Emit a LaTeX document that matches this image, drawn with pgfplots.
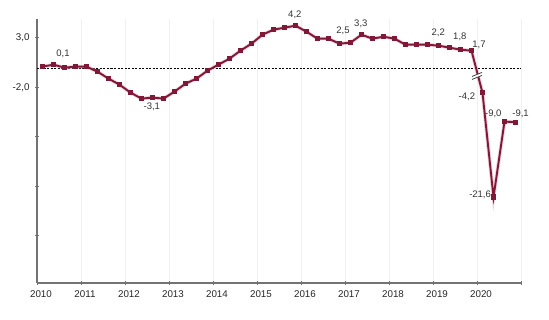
\documentclass[border=0pt]{standalone}
\usepackage{fontspec}
\setmainfont{Liberation Sans}
\usepackage{pgfplots}
\pgfplotsset{compat=1.18}
\usepackage{pgfplotstable}
\definecolor{wine}{RGB}{128,24,56}
\definecolor{winelight}{RGB}{225,160,180}
% v = value; s = scale of the broken axis part (after the break mark)
\pgfplotstableread{
x v s
2010.125 0.1 1
2010.375 0.3 1
2010.625 0.0 1
2010.875 0.1 1
2011.125 0.1 1
2011.375 -0.4 1
2011.625 -1.1 1
2011.875 -1.7 1
2012.125 -2.5 1
2012.375 -3.1 1
2012.625 -3.0 1
2012.875 -3.1 1
2013.125 -2.4 1
2013.375 -1.6 1
2013.625 -1.1 1
2013.875 -0.3 1
2014.125 0.3 1
2014.375 0.9 1
2014.625 1.7 1
2014.875 2.4 1
2015.125 3.3 1
2015.375 3.8 1
2015.625 4.0 1
2015.875 4.2 1
2016.125 3.6 1
2016.375 2.9 1
2016.625 2.9 1
2016.875 2.4 1
2017.125 2.5 1
2017.375 3.3 1
2017.625 2.9 1
2017.875 3.1 1
2018.125 2.9 1
2018.375 2.3 1
2018.625 2.3 1
2018.875 2.3 1
2019.125 2.2 1
2019.375 2.0 1
2019.625 1.8 1
2019.875 1.7 1
2020.125 -4.2 0.6
2020.375 -21.6 0.6
2020.625 -9.0 0.6
2020.875 -9.1 0.6
}\gdpdata
\begin{document}
\begin{tikzpicture}
\path[use as bounding box] (-37pt,-36pt) rectangle (512pt,283pt);
\begin{axis}[
  at={(0pt,0pt)}, anchor=south west,
  scale only axis, width=484pt, height=264pt,
  xmin=2010, xmax=2021, ymin=-21.56, ymax=4.87,
  clip=false,
  axis lines*=left,
  axis line style={draw=black!55, line width=1.2pt},
  tick style={draw=black!55, line width=0.8pt},
  major tick length=4pt, tick align=center,
  xtick={2010,2011,2012,2013,2014,2015,2016,2017,2018,2019,2020,2021},
  xticklabels={2010,2011,2012,2013,2014,2015,2016,2017,2018,2019,2020,{}},
  ytick={3,-2,-6.93,-11.86,-16.79},
  yticklabels={{3,0},{-2,0},{},{},{}},
  xmajorgrids, grid style={draw=black!6, line width=0.8pt},
  tick label style={font=\fontsize{9.8}{10}\selectfont, text=black!85},
  xticklabel style={xshift=4pt, yshift=-2pt},
  yticklabel style={xshift=-2pt},
]
\draw[black, dash pattern=on 2pt off 1.5pt, line width=0.8pt] (axis cs:2010,-0.06) -- (axis cs:2021,-0.06);
\addplot[winelight, line width=3.6pt, opacity=0.5, forget plot] table[x=x, y expr=\thisrow{v}*\thisrow{s}] {\gdpdata};
\addplot[wine, line width=1.9pt, mark=square*, mark size=1.7pt, mark options={solid}] table[x=x, y expr=\thisrow{v}*\thisrow{s}] {\gdpdata};
\begin{scope}[shift={(axis cs:2020.0,-0.83)}]
  \fill[white] (-5pt,-3.5pt) -- (5pt,0.5pt) -- (5pt,3.5pt) -- (-5pt,-0.5pt) -- cycle;
  \draw[black!75, line width=0.8pt] (-5pt,-3.5pt) -- (5pt,0.5pt);
  \draw[black!75, line width=0.8pt] (-5pt,-0.5pt) -- (5pt,3.5pt);
\end{scope}
\begin{scope}[every node/.style={font=\fontsize{9.5}{10}\selectfont, text=black!80, inner sep=0pt}]
\node at (axis cs:2010.59,1.37) {0,1};
\node at (axis cs:2012.61,-3.93) {-3,1};
\node at (axis cs:2015.86,5.27) {4,2};
\node at (axis cs:2016.955,3.7) {2,5};
\node at (axis cs:2017.36,4.44) {3,3};
\node at (axis cs:2019.12,3.44) {2,2};
\node at (axis cs:2019.61,3.04) {1,8};
\node at (axis cs:2020.045,2.27) {1,7};
\node at (axis cs:2019.77,-2.96) {-4,2};
\node at (axis cs:2020.37,-4.66) {-9,0};
\node at (axis cs:2020.99,-4.66) {-9,1};
\node at (axis cs:2020.07,-12.73) {-21,6};
\end{scope}
\end{axis}
\end{tikzpicture}
\end{document}
